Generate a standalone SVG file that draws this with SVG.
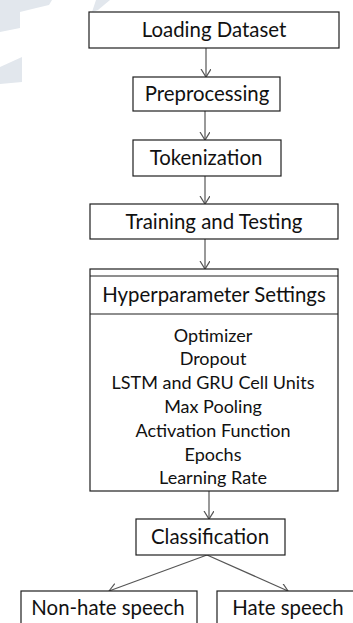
<svg xmlns="http://www.w3.org/2000/svg" width="353" height="623" viewBox="0 0 353 623">
  <style>
    .box { fill: #ffffff; stroke: #1e1e1e; stroke-width: 1.2; }
    .lbl { font-family: Lato, "Open Sans", "Liberation Sans", sans-serif; font-size: 20.4px; fill: #111111; text-anchor: middle; }
    .item { font-family: Lato, "Open Sans", "Liberation Sans", sans-serif; font-size: 18px; fill: #111111; text-anchor: middle; }
    .wire { fill: none; stroke: #555555; stroke-width: 1.2; marker-end: url(#vee); }
    .mark { fill: #e2e7ed; }
  </style>
  <defs>
    <marker id="vee" markerUnits="userSpaceOnUse" markerWidth="12" markerHeight="12" refX="8" refY="5" orient="auto">
      <path d="M0,0 L8,5 L0,10" fill="none" stroke="#555555" stroke-width="1.2"/>
    </marker>
  </defs>

  <!-- faint background emblem -->
  <g id="emblem">
    <path class="mark" d="M0,0 L52,0 L49,5 Q36,8 20,12 L20,28 Q10,30 0,32 Z"/>
    <path class="mark" d="M0,67 L22,57 L22,82 L0,84 Z"/>
    <path class="mark" d="M96,0 L110,0 L98,10 L92,12 Z"/>
  </g>

  <g id="connectors">
    <line class="wire" x1="206" y1="48" x2="206" y2="77"/>
    <line class="wire" x1="205" y1="111" x2="205" y2="140"/>
    <line class="wire" x1="205" y1="176" x2="205" y2="204"/>
    <line class="wire" x1="205" y1="239" x2="205" y2="269"/>
    <line class="wire" x1="209" y1="491" x2="209" y2="519"/>
    <line class="wire" x1="207" y1="555" x2="109" y2="591"/>
    <line class="wire" x1="207" y1="555" x2="288" y2="591"/>
  </g>

  <g id="loading">
    <rect class="box" x="89" y="12" width="250" height="36"/>
    <text class="lbl" x="214" y="37">Loading Dataset</text>
  </g>

  <g id="preprocessing">
    <rect class="box" x="133" y="77" width="147" height="34"/>
    <text class="lbl" x="207" y="101">Preprocessing</text>
  </g>

  <g id="tokenization">
    <rect class="box" x="133" y="140" width="148" height="36"/>
    <text class="lbl" x="206" y="165">Tokenization</text>
  </g>

  <g id="training">
    <rect class="box" x="90" y="204" width="248" height="35"/>
    <text class="lbl" x="214" y="229">Training and Testing</text>
  </g>

  <g id="hyperparameters">
    <rect class="box" x="90" y="269" width="248" height="222"/>
    <line x1="90" y1="276" x2="338" y2="276" stroke="#1e1e1e" stroke-width="1"/>
    <line x1="90" y1="314" x2="338" y2="314" stroke="#1e1e1e" stroke-width="1.2"/>
    <text class="lbl" x="214" y="302">Hyperparameter Settings</text>
    <text class="item" x="213" y="342">Optimizer</text>
    <text class="item" x="213" y="365">Dropout</text>
    <text class="item" x="213" y="389">LSTM and GRU Cell Units</text>
    <text class="item" x="213" y="413">Max Pooling</text>
    <text class="item" x="213" y="437">Activation Function</text>
    <text class="item" x="213" y="461">Epochs</text>
    <text class="item" x="213" y="484">Learning Rate</text>
  </g>

  <g id="classification">
    <rect class="box" x="136" y="519" width="149" height="36"/>
    <text class="lbl" x="210" y="544">Classification</text>
  </g>

  <g id="non-hate">
    <rect class="box" x="21" y="591" width="176" height="40"/>
    <text class="lbl" x="108" y="615">Non-hate speech</text>
  </g>

  <g id="hate">
    <rect class="box" x="217" y="591" width="140" height="40"/>
    <text class="lbl" x="288" y="615">Hate speech</text>
  </g>
</svg>
